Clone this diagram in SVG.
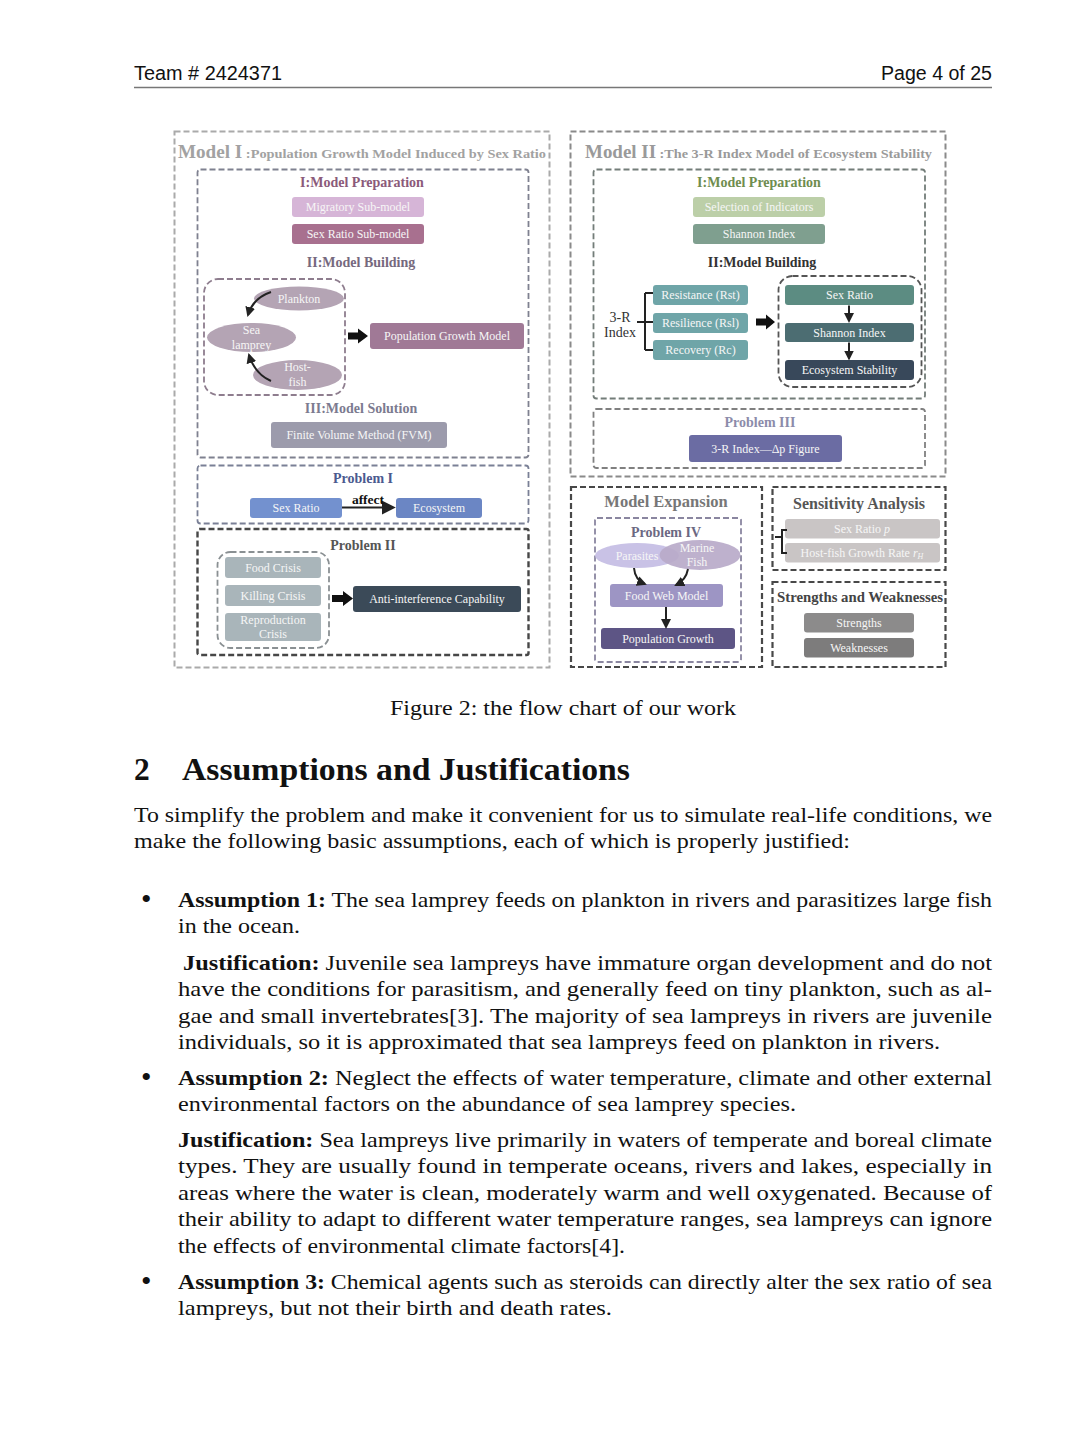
<svg xmlns="http://www.w3.org/2000/svg" width="1080" height="1440" viewBox="0 0 1080 1440">
<defs>
<style>
.hdr{font-family:"Liberation Sans",Arial,sans-serif;font-size:19.5px;fill:#111}
.fig{font-family:"Liberation Serif","Times New Roman",serif}
.ttl{font-weight:bold}
.bx{stroke:none}
.bt{font-family:"Liberation Serif","Times New Roman",serif;font-size:12px;fill:#f6f6f6;text-anchor:middle}
.sec{font-family:"Liberation Serif","Times New Roman",serif;font-weight:bold;font-size:14px;text-anchor:middle}
.dash{fill:none;stroke-dasharray:6 3}
.body{font-family:"Liberation Serif","Times New Roman",serif;font-size:22px;fill:#111}
.h1{font-family:"Liberation Serif","Times New Roman",serif;font-size:31.5px;font-weight:bold;fill:#111}
.b{font-weight:bold}
.bul{font-family:"Liberation Serif","Times New Roman",serif;font-size:30px;fill:#111}
.blk{fill:#111}
.ln{fill:none;stroke:#222;stroke-width:2}
</style>
<marker id="ah" viewBox="0 0 10 10" refX="8" refY="5" markerWidth="5" markerHeight="5" orient="auto" markerUnits="strokeWidth">
<path d="M0,0 L10,5 L0,10 z" fill="#222"/>
</marker>
<marker id="ah2" viewBox="0 0 10 10" refX="8" refY="5" markerWidth="7" markerHeight="7" orient="auto" markerUnits="strokeWidth">
<path d="M0,0 L10,5 L0,10 z" fill="#222"/>
</marker>
</defs>
<rect width="1080" height="1440" fill="#fff"/>

<!-- header -->
<g id="header">
<text class="hdr" x="134" y="80" textLength="148" lengthAdjust="spacingAndGlyphs">Team # 2424371</text>
<text class="hdr" x="992" y="80" text-anchor="end" textLength="111" lengthAdjust="spacingAndGlyphs">Page 4 of 25</text>
<line x1="134" y1="87.5" x2="992" y2="87.5" stroke="#777" stroke-width="1.5"/>
</g>

<!-- ===== Containers ===== -->
<g id="model1">
<rect class="dash" x="174.5" y="131.5" width="375" height="536" stroke="#aaa" stroke-width="2"/>
<text class="fig ttl" x="178" y="158" fill="#a2a2a2" textLength="368" lengthAdjust="spacingAndGlyphs"><tspan font-size="18">Model I</tspan><tspan font-size="13.5"> :Population Growth Model Induced by Sex Ratio</tspan></text>
</g>
<g id="m1-building">
<rect class="dash" x="197.5" y="169.5" width="331" height="288" rx="3" stroke="#7f8190" stroke-width="1.8"/>
<text class="sec" x="362" y="186.5" fill="#8b5a7a">I:Model Preparation</text>
<text class="sec" x="361" y="266.5" fill="#76697e">II:Model  Building</text>
<text class="sec" x="361" y="413" fill="#7c7b90">III:Model  Solution</text>
</g>
<g id="migratory"><rect class="bx" x="292" y="197" width="132" height="20" rx="3" fill="#d6b5d7"/><text class="bt" x="358" y="211">Migratory Sub-model</text></g>
<g id="sexratio-sub"><rect class="bx" x="292" y="224" width="132" height="20" rx="3" fill="#a8708f"/><text class="bt" x="358" y="238">Sex Ratio Sub-model</text></g>
<g id="species-group">
<rect class="dash" x="204" y="279" width="141" height="116" rx="14" stroke="#8e7d8e" stroke-width="1.8"/>
</g>
<g id="plankton"><ellipse cx="299" cy="298.5" rx="45" ry="12" fill="#b4a4b4"/><text class="bt" x="299" y="302.5">Plankton</text></g>
<g id="sealamprey"><ellipse cx="251.5" cy="337.5" rx="44.5" ry="14.5" fill="#b4a4b4"/><text class="bt" x="251.5" y="333.5">Sea</text><text class="bt" x="251.5" y="348.5">lamprey</text></g>
<g id="hostfish"><ellipse cx="297.5" cy="375" rx="44.5" ry="15" fill="#b4a4b4"/><text class="bt" x="297.5" y="371">Host-</text><text class="bt" x="297.5" y="386">fish</text></g>
<g id="popgrowthmodel"><rect class="bx" x="370" y="323" width="154" height="26" rx="3" fill="#a07996"/><text class="bt" x="447" y="340">Population Growth Model</text></g>
<g id="fvm"><rect class="bx" x="271" y="422" width="176" height="26" rx="3" fill="#9c9bac"/><text class="bt" x="359" y="439">Finite Volume Method (FVM)</text></g>

<g id="problem1">
<rect class="dash" x="197.5" y="465.5" width="331" height="58" rx="3" stroke="#7a8096" stroke-width="1.8"/>
<text class="sec" x="363" y="483" fill="#4b5a8f">Problem I</text>
</g>
<g id="p1-sexratio"><rect class="bx" x="250" y="498" width="92" height="20" rx="3" fill="#7391cf"/><text class="bt" x="296" y="512">Sex Ratio</text></g>
<g id="p1-ecosystem"><rect class="bx" x="396" y="498" width="86" height="20" rx="3" fill="#6b86c4"/><text class="bt" x="439" y="512">Ecosystem</text></g>

<g id="problem2">
<rect class="dash" x="197.5" y="529" width="331" height="126" rx="2" stroke="#474747" stroke-width="2.4"/>
<text class="sec" x="363" y="550" fill="#555">Problem II</text>
<rect class="dash" x="217.5" y="552" width="111.5" height="96" rx="13" stroke="#8a9093" stroke-width="1.8"/>
</g>
<g id="foodcrisis"><rect class="bx" x="225" y="557" width="96" height="21" rx="3" fill="#a9b5ba"/><text class="bt" x="273" y="571.5">Food Crisis</text></g>
<g id="killingcrisis"><rect class="bx" x="225" y="585" width="96" height="21" rx="3" fill="#a9b5ba"/><text class="bt" x="273" y="599.5">Killing Crisis</text></g>
<g id="reprocrisis"><rect class="bx" x="225" y="613" width="96" height="28" rx="3" fill="#a9b5ba"/><text class="bt" x="273" y="624">Reproduction</text><text class="bt" x="273" y="638">Crisis</text></g>
<g id="antiinterference"><rect class="bx" x="353" y="586" width="168" height="26" rx="3" fill="#3b4a58"/><text class="bt" x="437" y="603">Anti-interference Capability</text></g>

<g id="model2">
<rect class="dash" x="570.5" y="131.5" width="375" height="345" stroke="#8a8a8a" stroke-width="2"/>
<text class="fig ttl" x="585" y="158" fill="#9a9a9a" textLength="347" lengthAdjust="spacingAndGlyphs"><tspan font-size="18">Model II</tspan><tspan font-size="13.5"> :The 3-R Index Model of Ecosystem Stability</tspan></text>
</g>
<g id="m2-building">
<rect class="dash" x="593.5" y="169.5" width="331.5" height="229" rx="3" stroke="#737d79" stroke-width="1.8"/>
<text class="sec" x="759" y="186.5" fill="#6f8d4f">I:Model Preparation</text>
<text class="sec" x="762" y="266.5" fill="#333">II:Model  Building</text>
<text class="fig" x="620" y="322" font-size="14" fill="#333" text-anchor="middle">3-R</text>
<text class="fig" x="620" y="336.5" font-size="14" fill="#333" text-anchor="middle">Index</text>
<rect class="dash" x="778.5" y="276" width="143" height="111" rx="14" stroke="#555" stroke-width="1.8"/>
</g>
<g id="selection"><rect class="bx" x="693" y="197" width="132" height="20" rx="3" fill="#bccfa8"/><text class="bt" x="759" y="211">Selection of Indicators</text></g>
<g id="shannon-prep"><rect class="bx" x="693" y="224" width="132" height="20" rx="3" fill="#7f9f8f"/><text class="bt" x="759" y="238">Shannon Index</text></g>
<g id="resistance"><rect class="bx" x="653" y="285" width="95" height="20" rx="3" fill="#6fa5a8"/><text class="bt" x="700.5" y="299">Resistance (Rst)</text></g>
<g id="resilience"><rect class="bx" x="653" y="313" width="95" height="20" rx="3" fill="#6fa5a8"/><text class="bt" x="700.5" y="327">Resilience (Rsl)</text></g>
<g id="recovery"><rect class="bx" x="653" y="340" width="95" height="20" rx="3" fill="#6fa5a8"/><text class="bt" x="700.5" y="354">Recovery (Rc)</text></g>
<g id="m2-sexratio"><rect class="bx" x="785" y="285" width="129" height="20" rx="3" fill="#5c8c82"/><text class="bt" x="849.5" y="299">Sex Ratio</text></g>
<g id="m2-shannon"><rect class="bx" x="785" y="323" width="129" height="19" rx="3" fill="#4c6d72"/><text class="bt" x="849.5" y="336.5">Shannon Index</text></g>
<g id="ecostability"><rect class="bx" x="785" y="360" width="129" height="20" rx="3" fill="#38485a"/><text class="bt" x="849.5" y="374">Ecosystem Stability</text></g>

<g id="problem3">
<rect class="dash" x="593.5" y="409" width="331.5" height="59" rx="3" stroke="#808080" stroke-width="1.8"/>
<text class="sec" x="760" y="427" fill="#8c8caa">Problem III</text>
</g>
<g id="deltap"><rect class="bx" x="689" y="435" width="153" height="27" rx="3" fill="#6b6ca3"/><text class="bt" x="765.5" y="452.5">3-R Index—Δp Figure</text></g>

<g id="expansion">
<rect class="dash" x="571" y="487" width="191" height="180" stroke="#484848" stroke-width="2.2"/>
<text class="fig ttl" x="666" y="507" font-size="16.5" fill="#777" text-anchor="middle">Model Expansion</text>
<rect class="dash" x="595" y="518" width="146" height="144" rx="2" stroke="#8a86a0" stroke-width="1.8"/>
<text class="sec" x="666" y="536.5" fill="#6b6882">Problem IV</text>
</g>
<g id="parasites"><ellipse cx="637" cy="555.5" rx="42" ry="12.5" fill="#c9c2e6"/><text class="bt" x="637" y="559.5">Parasites</text></g>
<g id="marinefish"><ellipse cx="700" cy="555" rx="40.5" ry="15" fill="#b8aac9" fill-opacity="0.92"/><text class="bt" x="697" y="551.5">Marine</text><text class="bt" x="697" y="566">Fish</text></g>
<g id="foodweb"><rect class="bx" x="610" y="584" width="113" height="23" rx="3" fill="#9d95c4"/><text class="bt" x="666.5" y="599.5">Food Web Model</text></g>
<g id="popgrowth"><rect class="bx" x="601" y="628" width="134" height="21" rx="3" fill="#5d5585"/><text class="bt" x="668" y="642.5">Population Growth</text></g>

<g id="sensitivity">
<rect class="dash" x="772.5" y="487" width="173" height="83" stroke="#484848" stroke-width="2.2"/>
<text class="fig ttl" x="859" y="509" font-size="16" fill="#555" text-anchor="middle">Sensitivity Analysis</text>
</g>
<g id="sens-sexratio"><rect class="bx" x="785" y="519" width="155" height="19.5" rx="3" fill="#c9c5c5"/><text class="bt" x="862" y="532.5">Sex Ratio <tspan font-style="italic">p</tspan></text></g>
<g id="sens-hostfish"><rect class="bx" x="785" y="543" width="155" height="19.5" rx="3" fill="#c9c5c5"/><text class="bt" x="862" y="556.5">Host-fish Growth Rate <tspan font-style="italic">r</tspan><tspan font-style="italic" font-size="8" dy="2">H</tspan></text></g>

<g id="strengths-weaknesses">
<rect class="dash" x="772.5" y="582" width="173" height="85" stroke="#484848" stroke-width="2.2"/>
<text class="fig ttl" x="860" y="602" font-size="14.5" fill="#444" text-anchor="middle" textLength="166" lengthAdjust="spacingAndGlyphs">Strengths and Weaknesses</text>
</g>
<g id="strengths"><rect class="bx" x="804" y="613" width="110" height="19.5" rx="3" fill="#8c8b8b"/><text class="bt" x="859" y="627">Strengths</text></g>
<g id="weaknesses"><rect class="bx" x="804" y="638" width="110" height="19.5" rx="3" fill="#7d7c7c"/><text class="bt" x="859" y="652">Weaknesses</text></g>

<!-- ===== Connectors ===== -->
<g id="connectors">
<path class="ln" d="M271,292 Q253,298 248,315" stroke-width="2.6" marker-end="url(#ah)"/>
<path class="ln" d="M271,381 Q255,374 249,355" stroke-width="2.6" marker-end="url(#ah)"/>
<path class="blk" d="M348,332.5 H358 V328.5 L368,336 L358,343.5 V339.5 H348 Z"/>
<line class="ln" x1="342" y1="507.5" x2="393" y2="507.5" stroke-width="1.6" marker-end="url(#ah2)"/>
<text class="fig ttl" x="368" y="503.5" font-size="13.5" fill="#111" text-anchor="middle">affect</text>
<path class="blk" d="M332,595 H343 V591 L353,598.5 L343,606 V602 H332 Z"/>
<path class="ln" d="M645,293 H653 M645,322 H653 M645,350 H653 M645,293 V350 M637,322 H645" stroke-width="1.4" stroke="#333"/>
<path class="blk" d="M756,318.5 H766 V314.5 L775,322 L766,329.5 V325.5 H756 Z"/>
<line class="ln" x1="849" y1="305.5" x2="849" y2="321" stroke-width="2" marker-end="url(#ah)"/>
<line class="ln" x1="849" y1="342.5" x2="849" y2="358.5" stroke-width="2" marker-end="url(#ah)"/>
<path class="ln" d="M634,568 Q635,580 645,584" stroke-width="2" marker-end="url(#ah)"/>
<path class="ln" d="M688,569 Q686,580 676,585" stroke-width="2" marker-end="url(#ah)"/>
<line class="ln" x1="666" y1="607" x2="666" y2="627" stroke-width="2" marker-end="url(#ah)"/>
<path class="ln" d="M787,530 H782 V553 H787 M775,537 H782" stroke-width="1.3" stroke="#444"/>
</g>

<!-- ===== Text body ===== -->
<g id="caption">
<text class="body" x="390" y="715" textLength="346" lengthAdjust="spacingAndGlyphs">Figure 2: the flow chart of our work</text>
</g>
<g id="heading">
<text class="h1" x="134" y="780">2</text>
<text class="h1" x="182" y="780" textLength="448" lengthAdjust="spacingAndGlyphs">Assumptions and Justifications</text>
</g>
<g id="body">
<text class="body" x="134" y="821.5" textLength="858" lengthAdjust="spacingAndGlyphs">To simplify the problem and make it convenient for us to simulate real-life conditions, we</text>
<text class="body" x="134" y="848" textLength="716" lengthAdjust="spacingAndGlyphs">make the following basic assumptions, each of which is properly justified:</text>

<text class="bul" x="141" y="909">•</text>
<text class="body" x="178" y="906.5" textLength="814" lengthAdjust="spacingAndGlyphs"><tspan class="b">Assumption 1:</tspan> The sea lamprey feeds on plankton in rivers and parasitizes large fish</text>
<text class="body" x="178" y="933" textLength="122" lengthAdjust="spacingAndGlyphs">in the ocean.</text>
<text class="body" x="183" y="969.5" textLength="809" lengthAdjust="spacingAndGlyphs"><tspan class="b">Justification:</tspan> Juvenile sea lampreys have immature organ development and do not</text>
<text class="body" x="178" y="996" textLength="814" lengthAdjust="spacingAndGlyphs">have the conditions for parasitism, and generally feed on tiny plankton, such as al-</text>
<text class="body" x="178" y="1022.5" textLength="814" lengthAdjust="spacingAndGlyphs">gae and small invertebrates[3].  The majority of sea lampreys in rivers are juvenile</text>
<text class="body" x="178" y="1049" textLength="762" lengthAdjust="spacingAndGlyphs">individuals, so it is approximated that sea lampreys feed on plankton in rivers.</text>

<text class="bul" x="141" y="1087">•</text>
<text class="body" x="178" y="1084.5" textLength="814" lengthAdjust="spacingAndGlyphs"><tspan class="b">Assumption 2:</tspan> Neglect the effects of water temperature, climate and other external</text>
<text class="body" x="178" y="1111" textLength="618" lengthAdjust="spacingAndGlyphs">environmental factors on the abundance of sea lamprey species.</text>
<text class="body" x="178" y="1146.5" textLength="814" lengthAdjust="spacingAndGlyphs"><tspan class="b">Justification:</tspan> Sea lampreys live primarily in waters of temperate and boreal climate</text>
<text class="body" x="178" y="1173" textLength="814" lengthAdjust="spacingAndGlyphs">types.  They are usually found in temperate oceans, rivers and lakes, especially in</text>
<text class="body" x="178" y="1199.5" textLength="814" lengthAdjust="spacingAndGlyphs">areas where the water is clean, moderately warm and well oxygenated.  Because of</text>
<text class="body" x="178" y="1226" textLength="814" lengthAdjust="spacingAndGlyphs">their ability to adapt to different water temperature ranges, sea lampreys can ignore</text>
<text class="body" x="178" y="1252.5" textLength="447" lengthAdjust="spacingAndGlyphs">the effects of environmental climate factors[4].</text>

<text class="bul" x="141" y="1291">•</text>
<text class="body" x="178" y="1288.5" textLength="814" lengthAdjust="spacingAndGlyphs"><tspan class="b">Assumption 3:</tspan> Chemical agents such as steroids can directly alter the sex ratio of sea</text>
<text class="body" x="178" y="1315" textLength="434" lengthAdjust="spacingAndGlyphs">lampreys, but not their birth and death rates.</text>
</g>
</svg>
